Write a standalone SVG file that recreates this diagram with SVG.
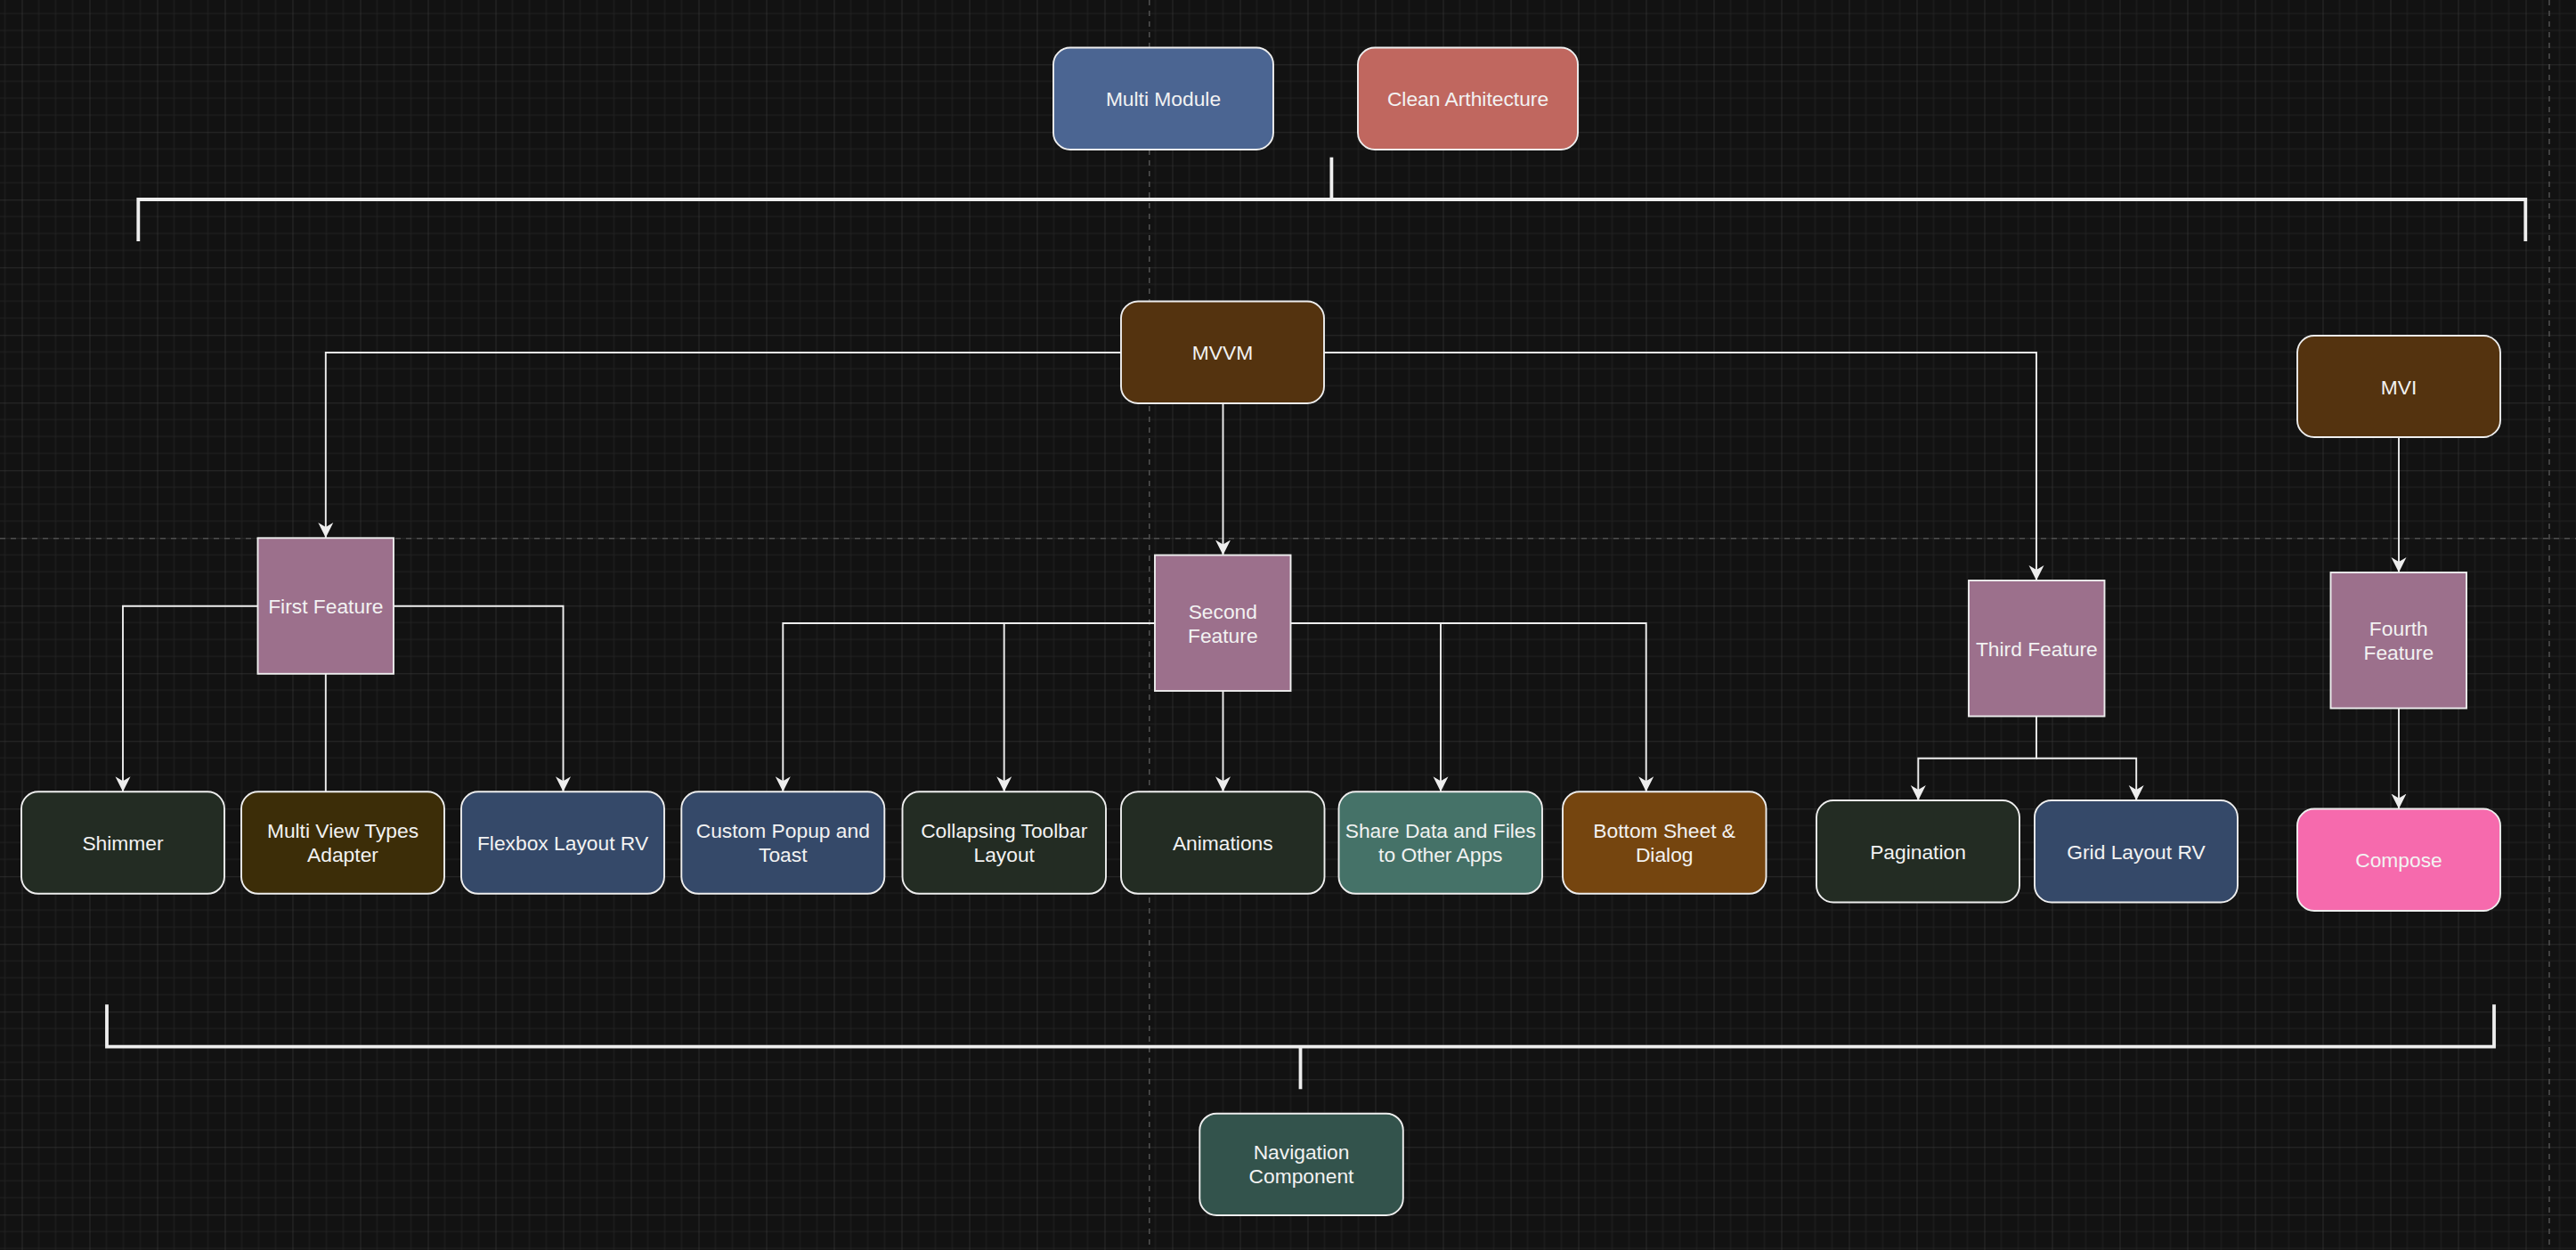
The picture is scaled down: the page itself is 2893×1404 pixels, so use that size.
<svg xmlns="http://www.w3.org/2000/svg" width="2893" height="1404" viewBox="0 0 2893 1404">
<defs>
<style>
.n{stroke:#eeeeee;stroke-width:1.9}
.t{font-family:"Liberation Sans",Arial,Helvetica,sans-serif;font-size:22.8px;fill:#f2f2f2;text-anchor:middle}
.c{fill:none;stroke:#eeeeee;stroke-width:1.9}
.b{fill:none;stroke:#eeeeee;stroke-width:3.8}
.pg{stroke:#4e4e4e;stroke-width:1.6;stroke-dasharray:6 6;fill:none}
</style>
<pattern id="grid" patternUnits="userSpaceOnUse" x="24.5" y="-3.7" width="76" height="76">
<path d="M19,0V76M38,0V76M57,0V76M0,19H76M0,38H76M0,57H76" stroke="#222222" stroke-width="1"/>
<path d="M0,0V76M0,0H76" stroke="#424242" stroke-width="1"/>
</pattern>
<marker id="arr" markerUnits="userSpaceOnUse" markerWidth="18" markerHeight="18" viewBox="0 0 18 18" refX="17" refY="9" orient="auto">
<path d="M17,9 L0,0.5 L5,9 L0,17.5 Z" fill="#eeeeee"/>
</marker>
</defs>
<rect x="0" y="0" width="2893" height="1404" fill="#121212"/>
<rect x="0" y="0" width="2893" height="1404" fill="url(#grid)"/>
<path class="pg" d="M1290.8,0V1404M2863,0V1404M0,604.7H2893"/>

<g id="connectors">
<path class="b" d="M155.3,271V224H2836.3V271"/>
<path class="b" d="M1495.4,176.7V224"/>
<path class="b" d="M120,1128.3V1175.7H2801V1128.3"/>
<path class="b" d="M1460.5,1175.7V1223.3"/>
<path class="c" d="M1259,396H365.8V604" marker-end="url(#arr)"/>
<path class="c" d="M1373.5,453V623.5" marker-end="url(#arr)"/>
<path class="c" d="M1487,396H2287V652" marker-end="url(#arr)"/>
<path class="c" d="M2694,491V643" marker-end="url(#arr)"/>
<path class="c" d="M2694,795.5V908.5" marker-end="url(#arr)"/>
<path class="c" d="M289.5,680.7H138V889.3" marker-end="url(#arr)"/>
<path class="c" d="M365.8,756.8V889.3"/>
<path class="c" d="M442,680.7H632.5V889.3" marker-end="url(#arr)"/>
<path class="c" d="M1297,700H879.3V889.3" marker-end="url(#arr)"/>
<path class="c" d="M1127.7,700V889.3" marker-end="url(#arr)"/>
<path class="c" d="M1373.5,776V889.3" marker-end="url(#arr)"/>
<path class="c" d="M1449.5,700H1618V889.3" marker-end="url(#arr)"/>
<path class="c" d="M1618,700H1848.7V889.3" marker-end="url(#arr)"/>
<path class="c" d="M2287,804.5V851.8H2154.3V899" marker-end="url(#arr)"/>
<path class="c" d="M2287,851.8H2399.2V899" marker-end="url(#arr)"/>
</g>

<g id="multi-module"><rect class="n" x="1183" y="53.5" width="247" height="114.5" rx="19" fill="#4b6592"/><text class="t" x="1306.5" y="119">Multi Module</text></g>
<g id="clean-architecture"><rect class="n" x="1525" y="53.5" width="247" height="114.5" rx="19" fill="#c0675f"/><text class="t" x="1648.5" y="119">Clean Arthitecture</text></g>
<g id="mvvm"><rect class="n" x="1259" y="338.5" width="228" height="114.5" rx="19" fill="#54330f"/><text class="t" x="1373" y="404">MVVM</text></g>
<g id="mvi"><rect class="n" x="2580" y="377" width="228" height="114" rx="19" fill="#54330f"/><text class="t" x="2694" y="442.5">MVI</text></g>

<g id="first-feature"><rect class="n" x="289.5" y="604.3" width="152.5" height="152.5" fill="#9c708c"/><text class="t" x="365.8" y="689">First Feature</text></g>
<g id="second-feature"><rect class="n" x="1297" y="623.5" width="152.5" height="152.5" fill="#9c708c"/><text class="t" x="1373.3" y="694.5">Second</text><text class="t" x="1373.3" y="721.9">Feature</text></g>
<g id="third-feature"><rect class="n" x="2211" y="652" width="152.5" height="152.5" fill="#9c708c"/><text class="t" x="2287.3" y="736.5">Third Feature</text></g>
<g id="fourth-feature"><rect class="n" x="2617.5" y="643" width="152.5" height="152.5" fill="#9c708c"/><text class="t" x="2693.8" y="714">Fourth</text><text class="t" x="2693.8" y="741.4">Feature</text></g>

<g id="shimmer"><rect class="n" x="24" y="889.3" width="228" height="114.5" rx="19" fill="#232c23"/><text class="t" x="138" y="955">Shimmer</text></g>
<g id="multi-view-types-adapter"><rect class="n" x="271" y="889.3" width="228" height="114.5" rx="19" fill="#3c2d08"/><text class="t" x="385" y="940.8">Multi View Types</text><text class="t" x="385" y="968.2">Adapter</text></g>
<g id="flexbox-layout-rv"><rect class="n" x="518" y="889.3" width="228" height="114.5" rx="19" fill="#354969"/><text class="t" x="632" y="955">Flexbox Layout RV</text></g>
<g id="custom-popup-and-toast"><rect class="n" x="765.3" y="889.3" width="228" height="114.5" rx="19" fill="#354969"/><text class="t" x="879.3" y="940.8">Custom Popup and</text><text class="t" x="879.3" y="968.2">Toast</text></g>
<g id="collapsing-toolbar-layout"><rect class="n" x="1013.5" y="889.3" width="228.5" height="114.5" rx="19" fill="#232c23"/><text class="t" x="1127.7" y="940.8">Collapsing Toolbar</text><text class="t" x="1127.7" y="968.2">Layout</text></g>
<g id="animations"><rect class="n" x="1259" y="889.3" width="228.5" height="114.5" rx="19" fill="#232c23"/><text class="t" x="1373.3" y="955">Animations</text></g>
<g id="share-data"><rect class="n" x="1503.5" y="889.3" width="228.5" height="114.5" rx="19" fill="#457268"/><text class="t" x="1617.8" y="940.8">Share Data and Files</text><text class="t" x="1617.8" y="968.2">to Other Apps</text></g>
<g id="bottom-sheet-dialog"><rect class="n" x="1755" y="889.3" width="228.5" height="114.5" rx="19" fill="#75450f"/><text class="t" x="1869.2" y="940.8">Bottom Sheet &amp;</text><text class="t" x="1869.2" y="968.2">Dialog</text></g>
<g id="pagination"><rect class="n" x="2040" y="899" width="228" height="114.5" rx="19" fill="#232c23"/><text class="t" x="2154" y="964.5">Pagination</text></g>
<g id="grid-layout-rv"><rect class="n" x="2285" y="899" width="228" height="114.5" rx="19" fill="#354969"/><text class="t" x="2399" y="964.5">Grid Layout RV</text></g>
<g id="compose"><rect class="n" x="2580" y="908.5" width="228" height="114.5" rx="19" fill="#f66aad"/><text class="t" x="2694" y="974">Compose</text></g>
<g id="navigation-component"><rect class="n" x="1347.3" y="1250.7" width="228.5" height="114.3" rx="19" fill="#33534c"/><text class="t" x="1461.5" y="1302">Navigation</text><text class="t" x="1461.5" y="1329.4">Component</text></g>
</svg>
